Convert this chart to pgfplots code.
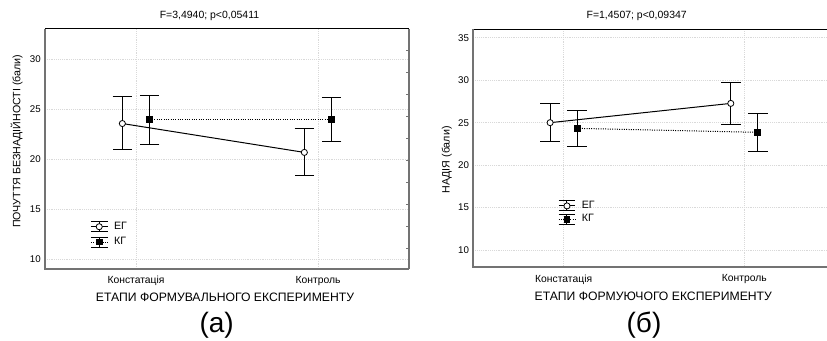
\documentclass[border=0pt]{standalone}
\usepackage{fontspec}
\setmainfont{Liberation Sans}
\usepackage{pgfplots}
\pgfplotsset{compat=1.18}
\definecolor{spine}{gray}{0.45}
\pgfplotsset{
 mybase/.style={
  scale only axis, anchor=south west,
  xmin=-0.5, xtick={0,1}, xticklabels={Констатація,Контроль},
  axis line style={draw=none},
  major tick length=0pt,
  grid=major, major grid style={gray!30, densely dotted, line width=0.4pt},
  tick label style={font=\fontsize{7.3}{8}\selectfont},
  /pgf/number format/assume math mode=true,
  yticklabel style={inner sep=0pt, xshift=-3pt},
  xticklabel style={inner sep=0pt, yshift=-5.5pt, font=\fontsize{7.75}{9}\selectfont},
  clip=false,
  legend style={draw=none, fill=none, font=\fontsize{8}{9}\selectfont, inner sep=0pt, row sep=0.5pt,
    /tikz/every odd column/.append style={column sep=2.5pt}},
  legend cell align=left,
 },
 errimg/.style={legend image code/.code={
   \draw[solid, black, line width=0.75pt] (0pt,3.75pt) -- (12.5pt,3.75pt);
   \draw[solid, black, line width=0.75pt] (0pt,-3.75pt) -- (12.5pt,-3.75pt);
   \draw[solid, black, line width=0.75pt] (6.25pt,-3.75pt) -- (6.25pt,3.75pt);
   \draw[##1, mark repeat=2, mark phase=2] plot coordinates {(0pt,0pt) (6.25pt,0pt) (12.5pt,0pt)};
 }},
 eg/.style={black, solid, line width=0.75pt, mark=*, mark size=2.3pt, mark options={solid, fill=white, line width=0.6pt}, errimg},
 kg/.style={black, densely dotted, line width=0.75pt, mark=square*, mark size=2.2pt, mark options={solid, fill=black}, errimg},
 ebars/.style={error bars/.cd, y dir=both, y explicit, error mark=-, error mark options={solid, rotate=90, mark size=7.3pt, line width=0.75pt}, error bar style={solid, line width=0.75pt}},
}
\begin{document}
\begin{tikzpicture}
\useasboundingbox (0,0) rectangle (620.25pt,-255pt);
% ---------- left panel
\begin{axis}[mybase, at={(33.75pt,-201.5pt)}, width=273pt, height=179.8pt,
  xmax=1.5, ymin=9.03, ymax=33.03, ytick={10,15,20,25,30},
  legend style={at={(rel axis cs:0.124,0.143)}, anchor=west}]
\addplot[eg, ebars] table[x=x, y=y, y error plus=ep, y error minus=em] {
x y ep em
-0.075 23.56 2.67 2.63
0.925 20.67 2.40 2.34
};
\addlegendentry{ЕГ}
\addplot[kg, ebars] table[x=x, y=y, y error plus=ep, y error minus=em] {
x y ep em
0.075 23.96 2.44 2.53
1.075 23.96 2.21 2.23
};
\addlegendentry{КГ}
\draw[black, line width=0.7pt] (rel axis cs:0,1) -- (rel axis cs:1,1);
\draw[spine, line width=1.3pt] (rel axis cs:0,1) -- (rel axis cs:0,0) -- (rel axis cs:1,0);
\draw[spine, line width=1.1pt] (rel axis cs:1,0) -- (rel axis cs:1,1);
\pgfplotsinvokeforeach{30.85,28.65,26.45,24.25,22.05,19.85,17.65,15.45,13.25,11.05}{
 \draw[spine, line width=0.6pt] (axis cs:1.5,#1) -- ++(-2pt,0pt);
}
\end{axis}
% ---------- right panel (cut at the right edge)
\begin{axis}[mybase, at={(355pt,-200.25pt)}, width=265.3pt, height=178.3pt,
  xmax=1.458, ymin=8, ymax=36, ytick={10,15,20,25,30,35},
  legend style={at={(rel axis cs:0.239,0.229)}, anchor=west, row sep=-1pt}]
\addplot[eg, ebars] table[x=x, y=y, y error plus=ep, y error minus=em] {
x y ep em
-0.075 25.00 2.27 2.27
0.925 27.27 2.45 2.47
};
\addlegendentry{ЕГ}
\addplot[kg, ebars] table[x=x, y=y, y error plus=ep, y error minus=em] {
x y ep em
0.075 24.33 2.16 2.08
1.075 23.86 2.27 2.31
};
\addlegendentry{КГ}
\draw[black, line width=0.7pt] (rel axis cs:0,1) -- (rel axis cs:1,1);
\draw[spine, line width=1.3pt] (rel axis cs:0,1) -- (rel axis cs:0,0) -- (rel axis cs:1,0);
\end{axis}
% ---------- texts
\node[font=\fontsize{7.85}{9}\selectfont] at ({209.5*0.75pt},{-16*0.75pt}) {F=3,4940; p<0,05411};
\node[font=\fontsize{7.85}{9}\selectfont] at ({636.7*0.75pt},{-15.5*0.75pt}) {F=1,4507; p<0,09347};
\node[font=\fontsize{9.15}{11}\selectfont] at ({225*0.75pt},{-297.7*0.75pt}) {ЕТАПИ ФОРМУВАЛЬНОГО ЕКСПЕРИМЕНТУ};
\node[font=\fontsize{9.15}{11}\selectfont] at ({653.3*0.75pt},{-296.7*0.75pt}) {ЕТАПИ ФОРМУЮЧОГО ЕКСПЕРИМЕНТУ};
\node[font=\fontsize{8}{10}\selectfont, rotate=90] at ({16.7*0.75pt},{-141.3*0.75pt}) {ПОЧУТТЯ БЕЗНАДІЙНОСТІ (бали)};
\node[font=\fontsize{8}{10}\selectfont, rotate=90] at ({446.7*0.75pt},{-160*0.75pt}) {НАДІЯ (бали)};
\node[font=\fontsize{21}{24}\selectfont] at ({216.7*0.75pt},{-325.3*0.75pt}) {(а)};
\node[font=\fontsize{21}{24}\selectfont] at ({644*0.75pt},{-325.3*0.75pt}) {(б)};
\end{tikzpicture}
\end{document}
